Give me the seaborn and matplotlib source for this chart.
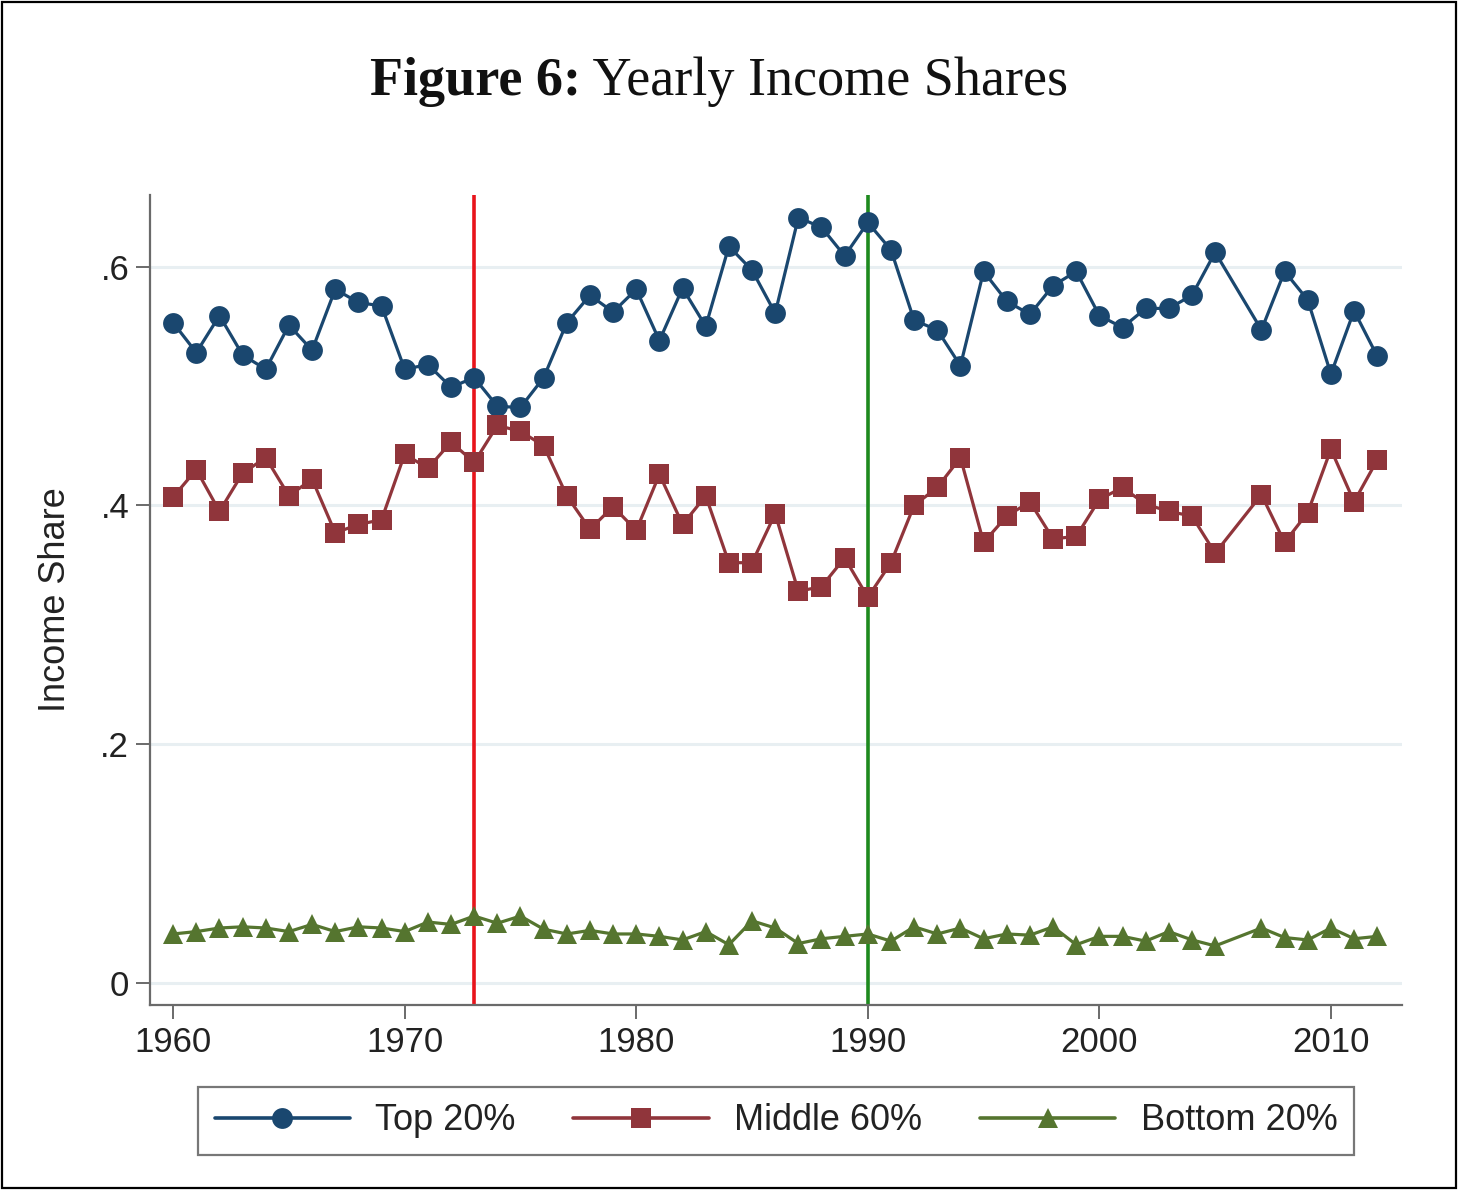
import matplotlib
matplotlib.use("Agg")
import matplotlib.pyplot as plt
import seaborn as sns
import pandas as pd
from matplotlib.patches import Rectangle
from matplotlib.lines import Line2D

years = list(range(1960, 2006)) + list(range(2007, 2013))
top20 = [0.553, 0.528, 0.559, 0.526, 0.514, 0.551, 0.530, 0.581, 0.570, 0.567,
         0.514, 0.518, 0.499, 0.507, 0.483, 0.482, 0.507, 0.553, 0.576, 0.562,
         0.581, 0.538, 0.582, 0.550, 0.617, 0.597, 0.561, 0.641, 0.633, 0.609,
         0.637, 0.614, 0.555, 0.547, 0.517, 0.596, 0.571, 0.560, 0.584, 0.596,
         0.559, 0.549, 0.565, 0.565, 0.576, 0.612,
         0.547, 0.596, 0.572, 0.510, 0.563, 0.525]
middle60 = [0.407, 0.430, 0.395, 0.427, 0.440, 0.408, 0.422, 0.377, 0.384, 0.388,
            0.443, 0.431, 0.453, 0.436, 0.467, 0.462, 0.450, 0.408, 0.380, 0.399,
            0.379, 0.426, 0.384, 0.408, 0.352, 0.352, 0.393, 0.328, 0.332, 0.356,
            0.323, 0.352, 0.400, 0.415, 0.440, 0.369, 0.391, 0.403, 0.372, 0.374,
            0.405, 0.415, 0.401, 0.395, 0.391, 0.360,
            0.409, 0.369, 0.394, 0.447, 0.403, 0.438]
bottom20 = [0.041, 0.043, 0.046, 0.047, 0.046, 0.043, 0.049, 0.043, 0.047, 0.046,
            0.043, 0.051, 0.049, 0.056, 0.050, 0.056, 0.045, 0.041, 0.044, 0.041,
            0.041, 0.039, 0.036, 0.043, 0.032, 0.052, 0.046, 0.033, 0.037, 0.039,
            0.041, 0.035, 0.047, 0.041, 0.046, 0.037, 0.041, 0.040, 0.047, 0.032,
            0.039, 0.039, 0.035, 0.043, 0.036, 0.031,
            0.046, 0.038, 0.036, 0.046, 0.037, 0.039]
series_names = ["Top 20%", "Middle 60%", "Bottom 20%"]
event_years = [1973, 1990]
y_ticks = [0, 0.2, 0.4, 0.6]
y_tick_labels = ["0", ".2", ".4", ".6"]
x_ticks = [1960, 1970, 1980, 1990, 2000, 2010]

df = pd.concat([
    pd.DataFrame({"year": years, "share": vals, "group": name})
    for name, vals in zip(series_names, [top20, middle60, bottom20])
], ignore_index=True)

sns.set_theme(style="white")
plt.rcParams['font.family'] = ['Liberation Sans', 'DejaVu Sans']

fig = plt.figure(figsize=(14.58, 11.90), dpi=100)
ax = fig.add_axes([150/1458, 1 - 1005/1190, (1402-150)/1458, (1005-195)/1190])

palette = {"Top 20%": "#1a476f", "Middle 60%": "#90353b", "Bottom 20%": "#55752f"}
markers = {"Top 20%": "o", "Middle 60%": "s", "Bottom 20%": "^"}

for yv in y_ticks:
    ax.axhline(yv, color="#e8eff2", lw=2.2, zorder=0)

ax.axvline(event_years[0], color="#e8141b", lw=2.6, zorder=1)
ax.axvline(event_years[1], color="#1e8a1e", lw=2.6, zorder=1)

sns.lineplot(data=df, x="year", y="share", hue="group", style="group",
             palette=palette, markers=markers, dashes=False, ax=ax,
             lw=2.3, markersize=15, markeredgewidth=0, zorder=3, legend=False)

ax.set_xlim(1959.0, 2013.07)
ax.set_ylim(-0.0185, 0.660)
ax.set_xticks(x_ticks)
ax.set_yticks(y_ticks)
ax.set_yticklabels(y_tick_labels)
ax.set_xlabel("")
ax.set_ylabel("Income Share", fontsize=26, color="#222222", labelpad=20)

for s in ["top", "right"]:
    ax.spines[s].set_visible(False)
for s in ["left", "bottom"]:
    ax.spines[s].set_color("#6a6a6a")
    ax.spines[s].set_linewidth(1.6)
ax.tick_params(axis="both", which="major", direction="out", length=10, width=1.4,
               color="#6a6a6a", labelsize=25, labelcolor="#222222",
               bottom=True, left=True, pad=5)

# Legend
handles = [Line2D([0], [0], color=palette[n], lw=2.6, marker=markers[n],
                  markersize=15, markeredgewidth=0) for n in series_names]
leg = fig.legend(handles, series_names, loc="center",
                 bbox_to_anchor=(776/1458, 1 - 1121/1190), ncol=3,
                 fontsize=26, handlelength=3.75, columnspacing=1.6,
                 handletextpad=0.7, frameon=True, fancybox=False,
                 borderpad=0.45, borderaxespad=0)
leg.get_frame().set_edgecolor("#555555")
leg.get_frame().set_linewidth(1.6)
for t in leg.get_texts():
    t.set_color("#222222")

# Title: bold part + regular part
t1 = fig.text(370/1458, 1 - 95/1190, "Figure 6:", fontsize=39, fontweight="bold",
              family=["Liberation Serif", "DejaVu Serif"], ha="left", va="baseline",
              color="#111111")
fig.canvas.draw()
ax.annotate(" Yearly Income Shares", xy=(1, 0), xycoords=t1, ha="left", va="bottom",
            fontsize=39, family=["Liberation Serif", "DejaVu Serif"], color="#111111",
            annotation_clip=False)

fig.patches.append(Rectangle((0.0015, 0.0015), 0.997, 0.997, transform=fig.transFigure,
                             fill=False, ec="black", lw=1.6))

fig.savefig("out.png", dpi=100)
